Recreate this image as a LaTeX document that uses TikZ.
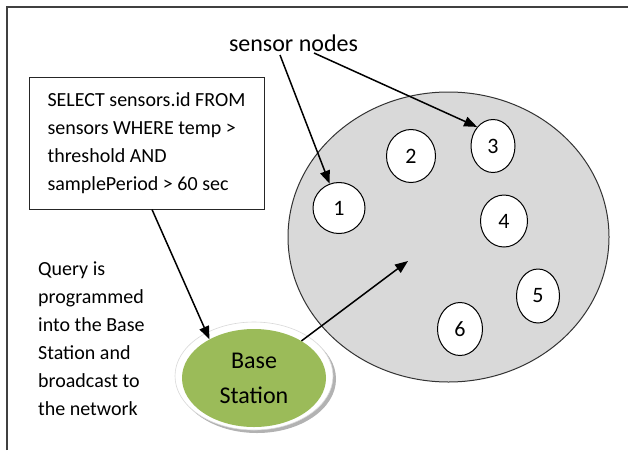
\documentclass[tikz,border=0pt]{standalone}
\usepackage{fontspec}
\setmainfont{Carlito}
\usetikzlibrary{arrows.meta,shapes.geometric,calc}
\definecolor{bsgreen}{HTML}{9BBB59}
\definecolor{netgray}{HTML}{D9D9D9}
\definecolor{framegray}{HTML}{404040}
\begin{document}
\begin{tikzpicture}[x=1pt,y=-1pt,
  sensornode/.style={ellipse,draw=black,line width=1pt,fill=white,inner sep=0pt,
    font=\fontsize{22}{26}\selectfont},
  arr/.style={line width=1.5pt,-{Triangle[length=13pt,width=10pt]}},
  txt/.style={font=\fontsize{20}{28}\selectfont,align=left}]
\useasboundingbox (0,0) rectangle (628,450);
\fill[white] (0,0) rectangle (628,450);
% frame
\draw[framegray,line width=1.5pt] (7,450) -- (7,7) -- (628,7);
% network
\node[ellipse,draw=black!80,line width=1pt,fill=netgray,minimum width=321pt,minimum height=290pt,inner sep=0pt] (net) at (448.5,237) {};
\node[sensornode,minimum width=52pt,minimum height=51pt] (n1) at (339,208) {1};
\node[sensornode,minimum width=49pt,minimum height=53pt] (n2) at (411,156) {2};
\node[sensornode,minimum width=44pt,minimum height=53pt] (n3) at (493,146) {3};
\node[sensornode,minimum width=47pt,minimum height=52pt] (n4) at (504,221) {4};
\node[sensornode,minimum width=43pt,minimum height=54pt] (n5) at (538,296) {5};
\node[sensornode,minimum width=45pt,minimum height=53pt] (n6) at (460,329) {6};
% base station
\fill[black!30] (257,379) ellipse [x radius=79pt,y radius=54pt];
\fill[white] (254,376) ellipse [x radius=79pt,y radius=54pt];
\draw[black!15,line width=0.6pt] (254,376) ellipse [x radius=79pt,y radius=54pt];
\node[ellipse,fill=bsgreen,minimum width=144pt,minimum height=98pt,inner sep=0pt,
  align=center,font=\fontsize{24}{35}\selectfont] (base) at (254,378) {Base\\Station};
% query box
\node[draw=black!85,line width=1pt,minimum width=235pt,minimum height=132pt,txt] (query) at (146.5,143)
  {SELECT sensors.id FROM\\sensors WHERE temp >\\threshold AND\\samplePeriod > 60 sec};
% side text
\node[txt,anchor=north west,inner sep=0pt] (desc) at (38,262)
  {Query is\\programmed\\into the Base\\Station and\\broadcast to\\the network};
% label
\node[font=\fontsize{24}{28}\selectfont,inner sep=0pt] (snl) at (293.5,43) {sensor nodes};
\coordinate (s1) at (280,55);
\coordinate (s2) at (314,53);
\coordinate (qs) at ($(query.south)+(5.5,0)$);
\coordinate (tgt) at (408,261);
% connectors
\draw[arr] (s1) -- (n1);
\draw[arr] (s2) -- (n3.north west);
\draw[arr] (qs) -- (base.139);
\draw[arr] (base.38) -- (tgt);
\end{tikzpicture}
\end{document}
